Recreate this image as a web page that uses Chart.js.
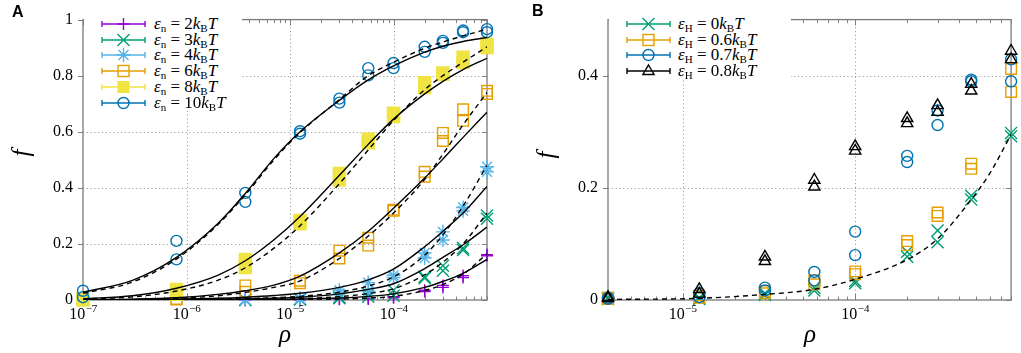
<!DOCTYPE html>
<html>
<head>
<meta charset="utf-8">
<script src="https://cdn.jsdelivr.net/npm/chart.js@4.4.0/dist/chart.umd.min.js"></script>
<style>
  body { margin: 0; background: #fff; }
  #wrap { position: relative; width: 1021px; height: 353px; overflow: hidden; font-family: 'Liberation Serif', 'DejaVu Serif', 'Times New Roman', serif; }
  canvas { position: absolute; top: 0; }
  .lbl { position: absolute; color: #000; line-height: 18px; }
  .panel { font: bold 16px 'Liberation Sans', Arial, sans-serif; line-height: 18px; }
  .axt { font-style: italic; font-size: 25px; line-height: 25px; }
  .legend { position: absolute; background: #fff; }
  .row { position: absolute; left: 0; height: 16px; width: 100%; white-space: nowrap; font-size: 17px; line-height: 16px; }
  .row svg { position: absolute; top: 0; }
  .row span { position: absolute; top: 0; }
  sub { font-size: 11px; vertical-align: -3px; line-height: 0; font-style: normal; }
</style>
</head>
<body>
<div id="wrap">
  <canvas id="chartA" width="510" height="353" style="left:0"></canvas>
  <canvas id="chartB" width="511" height="353" style="left:510px"></canvas>
  <div class="lbl panel" style="left:12px;top:3px">A</div>
  <div class="lbl panel" style="left:532px;top:2px">B</div>
  <div class="lbl axt" style="left:20px;top:153px;transform:translate(-50%,-50%) rotate(-90deg)">f</div>
  <div class="lbl axt" style="left:545px;top:155px;transform:translate(-50%,-50%) rotate(-90deg)">f</div>
  <div class="lbl axt" style="left:285px;top:333px;transform:translate(-50%,-50%)">ρ</div>
  <div class="lbl axt" style="left:810px;top:333px;transform:translate(-50%,-50%)">ρ</div>
  <div id="legA" class="legend" style="left:84px;top:13px;width:158px;height:98px"></div>
  <div id="legB" class="legend" style="left:609px;top:13px;width:182px;height:66px"></div>
</div>
<script>
const SERIF = "'Liberation Serif', 'DejaVu Serif', 'Times New Roman', serif";

// ---- panel A: data points (two runs per density) ----
const rhoA = [1e-7, 8e-7, 3.7e-6, 1.25e-5, 3e-5, 5.7e-5, 1e-4, 2e-4, 3e-4, 4.7e-4, 8e-4];
const n2a  = [null, null, 0.000, 0.002, 0.004, 0.006, 0.012, 0.035, 0.052, 0.087, 0.162];
const n2b  = [null, null, 0.000, 0.001, 0.003, 0.004, 0.008, 0.030, 0.045, 0.080, 0.158];
const n3a  = [null, null, 0.001, 0.004, 0.010, 0.022, 0.035, 0.083, 0.122, 0.185, 0.301];
const n3b  = [null, null, 0.000, 0.002, 0.006, 0.012, 0.015, 0.078, 0.104, 0.178, 0.290];
const n4a  = [null, null, 0.002, 0.006, 0.035, 0.062, 0.088, 0.168, 0.243, 0.330, 0.475];
const n4b  = [null, null, 0.001, 0.003, 0.023, 0.032, 0.080, 0.150, 0.214, 0.318, 0.457];
const n6a  = [null, 0.004, 0.052, 0.069, 0.176, 0.222, 0.322, 0.457, 0.596, 0.680, 0.746];
const n6b  = [null, 0.002, 0.029, 0.060, 0.148, 0.194, 0.318, 0.440, 0.567, 0.639, 0.735];
const n8a  = [0.005, 0.038, 0.145, 0.284, 0.451, 0.573, 0.666, 0.775, 0.810, 0.866, 0.912];
const n8b  = [0.000, 0.020, 0.116, 0.272, 0.428, 0.561, 0.654, 0.758, 0.805, 0.847, 0.900];
const n10a = [0.033, 0.211, 0.382, 0.602, 0.718, 0.827, 0.845, 0.903, 0.924, 0.961, 0.966];
const n10b = [0.010, 0.145, 0.350, 0.593, 0.704, 0.801, 0.827, 0.885, 0.917, 0.955, 0.955];

// ---- panel A: fitted curves (solid / dashed) ----
const rhoFitA = [1e-7, 3e-7, 8e-7, 2e-6, 3.7e-6, 7e-6, 1.25e-5, 3e-5, 5.7e-5, 1e-4, 2e-4, 3e-4, 4.7e-4, 8e-4];
const fit10  = [0.028, 0.070, 0.152, 0.272, 0.380, 0.505, 0.600, 0.712, 0.785, 0.835, 0.884, 0.905, 0.922, 0.936];
const fit10d = [0.024, 0.064, 0.146, 0.268, 0.375, 0.500, 0.597, 0.715, 0.800, 0.848, 0.898, 0.920, 0.942, 0.966];
const fit8   = [0.005, 0.015, 0.042, 0.088, 0.140, 0.215, 0.298, 0.445, 0.555, 0.645, 0.735, 0.780, 0.822, 0.862];
const fit8d  = [0.004, 0.011, 0.032, 0.070, 0.115, 0.185, 0.265, 0.415, 0.535, 0.640, 0.750, 0.800, 0.848, 0.903];
const fit6   = [0.001, 0.003, 0.008, 0.020, 0.033, 0.053, 0.085, 0.168, 0.245, 0.327, 0.435, 0.503, 0.580, 0.670];
const fit6d  = [0.000, 0.002, 0.006, 0.015, 0.027, 0.045, 0.068, 0.148, 0.228, 0.310, 0.430, 0.520, 0.625, 0.740];
const fit4   = [0.000, 0.001, 0.003, 0.006, 0.010, 0.016, 0.024, 0.045, 0.072, 0.110, 0.190, 0.245, 0.310, 0.405];
const fit4d  = [0.000, 0.000, 0.001, 0.003, 0.005, 0.008, 0.013, 0.028, 0.050, 0.082, 0.160, 0.232, 0.335, 0.480];
const fit3   = [0.000, 0.000, 0.001, 0.002, 0.004, 0.006, 0.010, 0.022, 0.038, 0.058, 0.112, 0.152, 0.197, 0.260];
const fit3d  = [0.000, 0.000, 0.000, 0.001, 0.002, 0.003, 0.005, 0.012, 0.023, 0.040, 0.090, 0.135, 0.200, 0.310];
const fit2   = [0.000, 0.000, 0.000, 0.000, 0.001, 0.002, 0.003, 0.007, 0.013, 0.022, 0.045, 0.066, 0.095, 0.145];
const fit2d  = [0.000, 0.000, 0.000, 0.000, 0.000, 0.000, 0.001, 0.003, 0.007, 0.013, 0.034, 0.055, 0.092, 0.165];

// ---- panel B ----
const rhoB = [3.7e-6, 1.25e-5, 3e-5, 5.8e-5, 1e-4, 2e-4, 3e-4, 4.7e-4, 8e-4];
const h0a  = [0.004, 0.004, 0.012, 0.022, 0.034, 0.086, 0.124, 0.186, 0.298];
const h0b  = [0.002, 0.002, 0.009, 0.017, 0.030, 0.077, 0.103, 0.179, 0.292];
const h06a = [0.004, 0.008, 0.016, 0.035, 0.051, 0.105, 0.156, 0.243, 0.412];
const h06b = [0.002, 0.004, 0.012, 0.028, 0.046, 0.098, 0.150, 0.234, 0.371];
const h07a = [0.004, 0.012, 0.022, 0.050, 0.122, 0.257, 0.338, 0.393, 0.429];
const h07b = [0.002, 0.005, 0.017, 0.035, 0.080, 0.246, 0.312, 0.390, 0.390];
const h08a = [0.005, 0.019, 0.077, 0.214, 0.274, 0.324, 0.347, 0.385, 0.444];
const h08b = [0.003, 0.011, 0.069, 0.202, 0.266, 0.315, 0.335, 0.373, 0.429];
const rhoFitB = [3.7e-6, 1.25e-5, 3e-5, 5.8e-5, 1e-4, 2e-4, 3e-4, 4.7e-4, 6e-4, 8e-4];
const fitB    = [0.001, 0.003, 0.010, 0.019, 0.037, 0.072, 0.109, 0.179, 0.225, 0.295];

// ticks
const yTicksA = [0, 0.2, 0.4, 0.6, 0.8, 1];
const yTicksB = [0, 0.2, 0.4];
const xExpA = [-7, -6, -5, -4];
const xExpB = [-5, -4];

const legendA = ['2', '3', '4', '6', '8', '10'];
const legendB = ['0', '0.6', '0.7', '0.8'];

const PURPLE = '#9400d3', GREEN = '#009e73', SKY = '#56b4e9', ORANGE = '#e69f00', YELLOW = '#f0e442', BLUE = '#0072b2';

function pts(xs, ...cols) {
  const out = [];
  xs.forEach((xv, i) => cols.forEach(c => { if (c[i] != null) out.push({ x: xv, y: c[i] }); }));
  return out;
}

function markers(data, style, color, r, fill, order) {
  return {
    data: data, showLine: false, pointStyle: style, pointRadius: r, pointHoverRadius: r,
    borderColor: color, backgroundColor: fill || 'rgba(0,0,0,0)', pointBorderWidth: 1.4,
    order: order, clip: false
  };
}

function curve(xs, ys, dashed) {
  return {
    data: xs.map((xv, i) => ({ x: xv, y: ys[i] })), showLine: true, pointRadius: 0,
    borderColor: '#000', borderWidth: 1.4, borderDash: dashed ? [5, 4] : [],
    cubicInterpolationMode: 'monotone', fill: false, order: 0
  };
}

const framePlugin = {
  id: 'frame',
  beforeDatasetsDraw(chart, args, opts) {
    const { ctx, chartArea: a, scales: { x, y } } = chart;
    ctx.save();
    // dotted grid at major ticks
    ctx.strokeStyle = '#a0a0a0';
    ctx.lineWidth = 1;
    ctx.setLineDash([1.2, 2.6]);
    ctx.beginPath();
    opts.exps.forEach(e => {
      const px = Math.round(x.getPixelForValue(Math.pow(10, e))) + 0.5;
      if (px > a.left + 2 && px < a.right - 2) { ctx.moveTo(px, a.top); ctx.lineTo(px, a.bottom); }
    });
    opts.yTicks.forEach(v => {
      const py = Math.round(y.getPixelForValue(v)) + 0.5;
      if (py > a.top + 2 && py < a.bottom - 2) { ctx.moveTo(a.left, py); ctx.lineTo(a.right, py); }
    });
    ctx.stroke();
    ctx.setLineDash([]);
    // tick marks
    ctx.strokeStyle = '#808080';
    ctx.lineWidth = 1;
    ctx.beginPath();
    const d0 = Math.floor(Math.log10(x.min)), d1 = Math.ceil(Math.log10(x.max));
    for (let d = d0; d <= d1; d++) {
      for (let k = 1; k <= 9; k++) {
        const v = k * Math.pow(10, d);
        if (v < x.min * 0.999 || v > x.max * 1.001) continue;
        const px = Math.round(x.getPixelForValue(v)) + 0.5;
        const len = k === 1 ? 6 : 3.5;
        ctx.moveTo(px, a.bottom); ctx.lineTo(px, a.bottom - len);
        ctx.moveTo(px, a.top); ctx.lineTo(px, a.top + len);
      }
    }
    opts.yTicks.forEach(v => {
      const py = Math.round(y.getPixelForValue(v)) + 0.5;
      ctx.moveTo(a.left - 5, py); ctx.lineTo(a.left, py);
      ctx.moveTo(a.right, py); ctx.lineTo(a.right - 5, py);
    });
    ctx.stroke();
    ctx.strokeStyle = '#7a7a7a';
    ctx.lineWidth = 1.3;
    ctx.strokeRect(a.left, a.top, a.right - a.left, a.bottom - a.top);
    ctx.restore();
  },
  afterDraw(chart, args, opts) {
    const { ctx, chartArea: a, scales: { x } } = chart;
    ctx.save();
    ctx.fillStyle = '#000';
    ctx.textBaseline = 'alphabetic';
    opts.exps.forEach(e => {
      const px = x.getPixelForValue(Math.pow(10, e));
      const sup = '\u2212' + Math.abs(e);
      ctx.font = '16px ' + SERIF;
      const w1 = ctx.measureText('10').width;
      ctx.font = '11px ' + SERIF;
      const w2 = ctx.measureText(sup).width;
      const x0 = px - (w1 + w2) / 2;
      ctx.font = '16px ' + SERIF;
      ctx.fillText('10', x0, a.bottom + 19);
      ctx.font = '11px ' + SERIF;
      ctx.fillText(sup, x0 + w1 + 0.5, a.bottom + 12);
    });
    ctx.restore();
  }
};

function makeChart(id, datasets, xmin, xmax, ymax, yTicks, exps, yWidth, padRight) {
  return new Chart(document.getElementById(id), {
    type: 'scatter',
    data: { datasets: datasets },
    plugins: [framePlugin],
    options: {
      responsive: false, animation: false, devicePixelRatio: 1,
      layout: { padding: { left: 0, right: padRight, top: 12, bottom: 0 } },
      plugins: { legend: { display: false }, tooltip: { enabled: false }, frame: { exps: exps, yTicks: yTicks } },
      scales: {
        x: {
          type: 'logarithmic', min: xmin, max: xmax,
          ticks: { display: false }, grid: { display: false, drawTicks: false }, border: { display: false },
          afterFit: s => { s.height = 53; }
        },
        y: {
          type: 'linear', min: 0, max: ymax,
          afterBuildTicks: s => { s.ticks = yTicks.map(v => ({ value: v })); },
          ticks: { color: '#000', padding: 10, font: { family: SERIF, size: 16 }, callback: v => String(+v.toFixed(1)) },
          grid: { display: false, drawTicks: false }, border: { display: false },
          afterFit: s => { s.width = yWidth; }
        }
      }
    }
  });
}

makeChart('chartA', [
  curve(rhoFitA, fit10), curve(rhoFitA, fit10d, true),
  curve(rhoFitA, fit8), curve(rhoFitA, fit8d, true),
  curve(rhoFitA, fit6), curve(rhoFitA, fit6d, true),
  curve(rhoFitA, fit4), curve(rhoFitA, fit4d, true),
  curve(rhoFitA, fit3), curve(rhoFitA, fit3d, true),
  curve(rhoFitA, fit2), curve(rhoFitA, fit2d, true),
  markers(pts(rhoA, n10a, n10b), 'circle', BLUE, 5.5, null, 1),
  markers(pts(rhoA, n8a, n8b), 'rect', YELLOW, 8.5, YELLOW, 2),
  markers(pts(rhoA, n6a, n6b), 'rect', ORANGE, 7.5, null, 3),
  markers(pts(rhoA, n4a, n4b), 'star', SKY, 7, null, 4),
  markers(pts(rhoA, n3a, n3b), 'crossRot', GREEN, 8.5, null, 5),
  markers(pts(rhoA, n2a, n2b), 'cross', PURPLE, 6, null, 6)
], 1e-7, 8e-4, 1, yTicksA, xExpA, 83, 23);

makeChart('chartB', [
  curve(rhoFitB, fitB, true),
  markers(pts(rhoB, h08a, h08b), 'triangle', '#000', 6.5, null, 1),
  markers(pts(rhoB, h07a, h07b), 'circle', BLUE, 5.5, null, 2),
  markers(pts(rhoB, h06a, h06b), 'rect', ORANGE, 7.5, null, 3),
  markers(pts(rhoB, h0a, h0b), 'crossRot', GREEN, 8.5, null, 4)
], 3.7e-6, 8e-4, 0.5, yTicksB, xExpB, 98, 9);

// ---- legends (html text with svg keys) ----
function icon(shape, color) {
  const c = 23.5, m = 8;
  let s = `<line x1="2" y1="${m}" x2="45" y2="${m}" stroke="${color}" stroke-width="1.4"/>` +
          `<line x1="2" y1="${m - 3}" x2="2" y2="${m + 3}" stroke="${color}" stroke-width="1.4"/>` +
          `<line x1="45" y1="${m - 3}" x2="45" y2="${m + 3}" stroke="${color}" stroke-width="1.4"/>`;
  const st = `stroke="${color}" stroke-width="1.4" fill="none"`;
  if (shape === 'cross') s += `<path d="M${c - 6} ${m}H${c + 6}M${c} ${m - 6}V${m + 6}" ${st}/>`;
  if (shape === 'crossRot') s += `<path d="M${c - 6} ${m - 6}L${c + 6} ${m + 6}M${c - 6} ${m + 6}L${c + 6} ${m - 6}" ${st}/>`;
  if (shape === 'star') s += `<path d="M${c - 7} ${m}H${c + 7}M${c} ${m - 7}V${m + 7}M${c - 5} ${m - 5}L${c + 5} ${m + 5}M${c - 5} ${m + 5}L${c + 5} ${m - 5}" ${st}/>`;
  if (shape === 'rect') s += `<rect x="${c - 5.5}" y="${m - 5.5}" width="11" height="11" ${st}/>`;
  if (shape === 'rectFill') s += `<rect x="${c - 6}" y="${m - 6}" width="12" height="12" fill="${color}"/>`;
  if (shape === 'circle') s += `<circle cx="${c}" cy="${m}" r="5.5" ${st}/>`;
  if (shape === 'triangle') s += `<path d="M${c} ${m - 6}L${c + 5.6} ${m + 3.5}L${c - 5.6} ${m + 3.5}Z" ${st}/>`;
  return `<svg width="48" height="16" style="left:16px">${s}</svg>`;
}

function buildLegend(id, labels, sub, shapes, colors, step, textLeft) {
  const el = document.getElementById(id);
  el.innerHTML = labels.map((v, i) =>
    `<div class="row" style="top:${(3 + i * step).toFixed(1)}px">${icon(shapes[i], colors[i])}` +
    `<span style="left:${textLeft}px"><i>ε</i><sub>${sub}</sub> = ${v}<i>k</i><sub>B</sub><i>T</i></span></div>`
  ).join('');
}

buildLegend('legA', legendA, 'n', ['cross', 'crossRot', 'star', 'rect', 'rectFill', 'circle'],
  [PURPLE, GREEN, SKY, ORANGE, YELLOW, BLUE], 15.7, 70);
buildLegend('legB', legendB, 'H', ['crossRot', 'rect', 'circle', 'triangle'],
  [GREEN, ORANGE, BLUE, '#000'], 15.5, 69);
</script>
</body>
</html>
